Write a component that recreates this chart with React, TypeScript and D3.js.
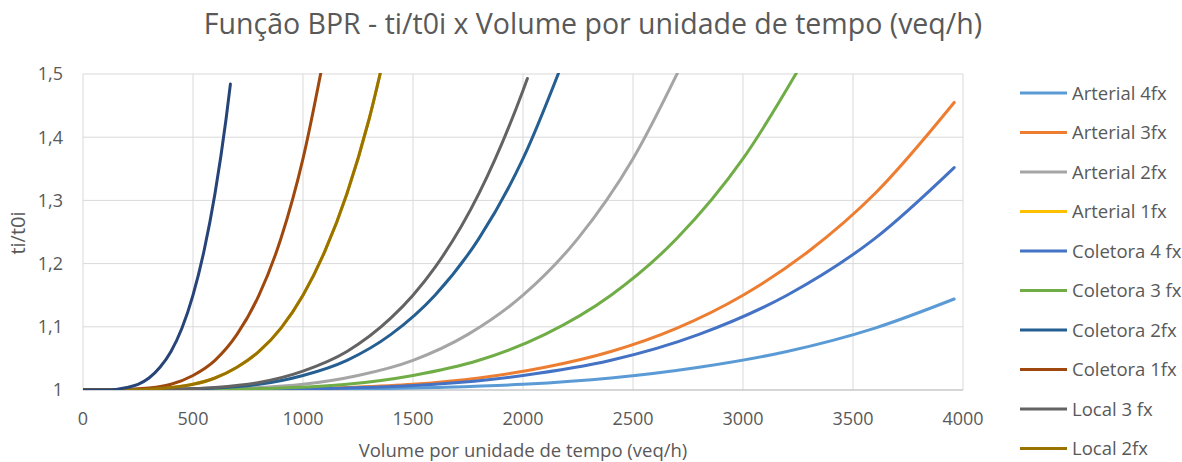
import { useMemo } from 'react';
import * as d3 from 'd3';

// values (volume in veq/h, ti/t0i)
const seriesNames = [
  'Arterial 4fx',
  'Arterial 3fx',
  'Arterial 2fx',
  'Arterial 1fx',
  'Coletora 4 fx',
  'Coletora 3 fx',
  'Coletora 2fx',
  'Coletora 1fx',
  'Local 3 fx',
  'Local 2fx',
  'Local 1fx',
];

const seriesColors = [
  '#5B9BD5',
  '#ED7D31',
  '#A5A5A5',
  '#FFC000',
  '#4472C4',
  '#70AD47',
  '#255E91',
  '#9E480E',
  '#636363',
  '#997300',
  '#264478',
];

const arterial4Vol = [0, 400, 800, 1200, 1600, 2000, 2400, 2800, 3200, 3600, 3960];
const arterial4Val = [1, 1.0, 1.0, 1.001, 1.004, 1.009, 1.019, 1.036, 1.061, 1.098, 1.144];

const arterial3Vol = [0, 300, 600, 900, 1200, 1500, 1800, 2100, 2400, 2700, 3000, 3300, 3600, 3960];
const arterial3Val = [1, 1.0, 1.0, 1.001, 1.004, 1.009, 1.019, 1.036, 1.061, 1.098, 1.15, 1.22, 1.311, 1.455];

const arterial2Vol = [0, 250, 500, 750, 1000, 1250, 1500, 1750, 2000, 2250, 2500, 2750];
const arterial2Val = [1, 1.0, 1.001, 1.003, 1.009, 1.023, 1.047, 1.088, 1.15, 1.24, 1.366, 1.536];

const arterial1Vol = [0, 100, 200, 300, 400, 500, 600, 700, 800, 900, 1000, 1100, 1200, 1300, 1400];
const arterial1Val = [1, 1.0, 1.0, 1.001, 1.004, 1.009, 1.019, 1.036, 1.061, 1.098, 1.15, 1.22, 1.311, 1.428, 1.576];

const coletora4Vol = [0, 400, 800, 1200, 1600, 2000, 2400, 2800, 3200, 3600, 3960];
const coletora4Val = [1, 1.0, 1.001, 1.003, 1.009, 1.023, 1.047, 1.088, 1.15, 1.24, 1.352];

const coletora3Vol = [0, 300, 600, 900, 1200, 1500, 1800, 2100, 2400, 2700, 3000, 3300];
const coletora3Val = [1, 1.0, 1.001, 1.003, 1.009, 1.023, 1.047, 1.088, 1.15, 1.24, 1.366, 1.536];

const coletora2Vol = [0, 200, 400, 600, 800, 1000, 1200, 1400, 1600, 1800, 2000, 2200];
const coletora2Val = [1, 1.0, 1.001, 1.003, 1.009, 1.023, 1.047, 1.088, 1.15, 1.24, 1.366, 1.536];

const coletora1Vol = [0, 100, 200, 300, 400, 500, 600, 700, 800, 900, 1000, 1100];
const coletora1Val = [1, 1.0, 1.001, 1.003, 1.009, 1.023, 1.047, 1.088, 1.15, 1.24, 1.366, 1.536];

const local3Vol = [0, 200, 400, 600, 800, 1000, 1200, 1400, 1500, 1600, 1800, 2000, 2020];
const local3Val = [1, 1.0, 1.001, 1.004, 1.012, 1.03, 1.061, 1.114, 1.15, 1.194, 1.311, 1.474, 1.493];

const local2Vol = [0, 100, 200, 300, 400, 500, 600, 700, 800, 900, 1000, 1100, 1200, 1300, 1400];
const local2Val = [1, 1.0, 1.0, 1.001, 1.004, 1.009, 1.019, 1.036, 1.061, 1.098, 1.15, 1.22, 1.311, 1.428, 1.576];

const local1Vol = [0, 50, 100, 150, 200, 250, 300, 350, 400, 450, 500, 550, 600, 650, 670];
const local1Val = [1, 1.0, 1.0, 1.001, 1.004, 1.009, 1.019, 1.036, 1.061, 1.098, 1.15, 1.22, 1.311, 1.428, 1.484];

const seriesVolumes = [
  arterial4Vol, arterial3Vol, arterial2Vol, arterial1Vol, coletora4Vol, coletora3Vol,
  coletora2Vol, coletora1Vol, local3Vol, local2Vol, local1Vol,
];
const seriesValues = [
  arterial4Val, arterial3Val, arterial2Val, arterial1Val, coletora4Val, coletora3Val,
  coletora2Val, coletora1Val, local3Val, local2Val, local1Val,
];

const xTicks = [0, 500, 1000, 1500, 2000, 2500, 3000, 3500, 4000];
const yTicks = [1, 1.1, 1.2, 1.3, 1.4, 1.5];

const chartTitle = 'Função BPR - ti/t0i x Volume por unidade de tempo (veq/h)';
const xTitle = 'Volume por unidade de tempo (veq/h)';
const yTitle = 'ti/t0i';

export default function App() {
  const width = 1182;
  const height = 462;
  const plot = { left: 83, right: 963, top: 74, bottom: 390 };
  const font = '"Open Sans", sans-serif';
  const textColor = '#595959';

  const x = d3.scaleLinear().domain([0, 4000]).range([plot.left, plot.right]);
  const y = d3.scaleLinear().domain([1, 1.5]).range([plot.bottom, plot.top]);

  const paths = useMemo(() => {
    const line = d3
      .line<[number, number]>()
      .x((d) => x(d[0]))
      .y((d) => y(d[1]))
      .curve(d3.curveMonotoneX);
    return seriesVolumes.map((vols, i) =>
      line(vols.map((v, j) => [v, seriesValues[i][j]] as [number, number])) ?? ''
    );
  }, []);

  const fmt = (v: number) => (v === 1 ? '1' : d3.format('.1f')(v).replace('.', ','));

  // the legend runs past the bottom edge in the original; only entries that fit are drawn
  const legendRows = seriesNames
    .map((name, i) => ({ name, color: seriesColors[i], ly: 93 + i * 39.5 }))
    .filter((r) => r.ly < height - 8);

  return (
    <svg
      width={width}
      height={height}
      style={{ position: 'absolute', left: 0, top: 0, background: '#fff' }}
      fontFamily={font}
    >
      <defs>
        <clipPath id="plot-clip">
          <rect x={plot.left} y={plot.top - 1} width={plot.right - plot.left + 2} height={plot.bottom - plot.top + 1} />
        </clipPath>
      </defs>

      <text x={593} y={34} textAnchor="middle" fontSize={28.5} fill={textColor}>
        {chartTitle}
      </text>

      {/* gridlines */}
      {yTicks.map((t) => (
        <line key={'gy' + t} x1={plot.left} x2={plot.right} y1={y(t)} y2={y(t)} stroke="#D9D9D9" strokeWidth={1} />
      ))}
      {xTicks.map((t) => (
        <line key={'gx' + t} x1={x(t)} x2={x(t)} y1={plot.top} y2={plot.bottom} stroke="#D9D9D9" strokeWidth={1} />
      ))}
      <line x1={plot.left} x2={plot.right} y1={plot.bottom} y2={plot.bottom} stroke="#BFBFBF" strokeWidth={1} />

      {/* tick labels */}
      {yTicks.map((t) => (
        <text key={'ty' + t} x={63} y={y(t)} dy="0.36em" textAnchor="end" fontSize={18} fill={textColor}>
          {fmt(t)}
        </text>
      ))}
      {xTicks.map((t) => (
        <text key={'tx' + t} x={x(t)} y={425} textAnchor="middle" fontSize={18} fill={textColor}>
          {t}
        </text>
      ))}

      <text x={523} y={457} textAnchor="middle" fontSize={18.5} fill={textColor}>
        {xTitle}
      </text>
      <text transform={`translate(25,233) rotate(-90)`} textAnchor="middle" fontSize={20} fill={textColor}>
        {yTitle}
      </text>

      {/* series */}
      <g clipPath="url(#plot-clip)">
        {paths.map((d, i) => (
          <path key={seriesNames[i]} d={d} fill="none" stroke={seriesColors[i]} strokeWidth={3} strokeLinecap="round" />
        ))}
      </g>

      {/* legend */}
      {legendRows.map((r) => (
        <g key={'lg' + r.name}>
          <line x1={1020} x2={1067} y1={r.ly} y2={r.ly} stroke={r.color} strokeWidth={3} />
          <text x={1072} y={r.ly} dy="0.36em" fontSize={18.5} fill={textColor}>
            {r.name}
          </text>
        </g>
      ))}
    </svg>
  );
}
